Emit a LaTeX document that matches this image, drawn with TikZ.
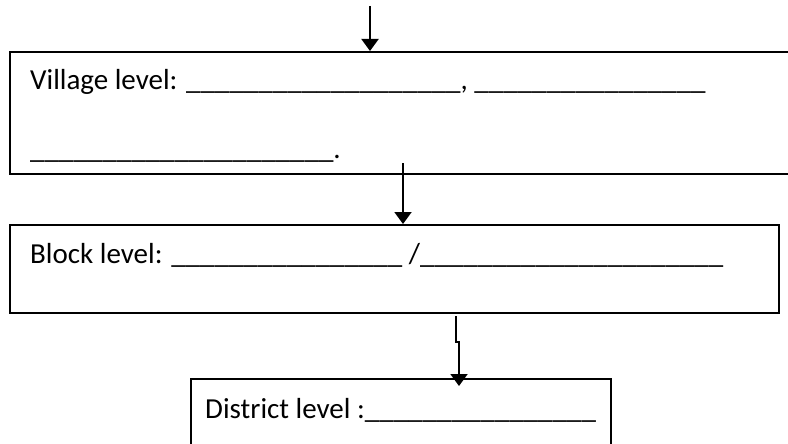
\documentclass[tikz,border=0pt]{standalone}
\usepackage{fontspec}
\setmainfont{Carlito}
\usetikzlibrary{arrows.meta}
\tikzset{
  box/.style={draw=black, line width=1.8pt, fill=none, inner sep=0pt, anchor=north west},
  txt/.style={anchor=base west, inner sep=0pt, font=\fontsize{29}{35}\selectfont},
  arr/.style={draw=black, line width=2pt, -{Triangle[width=17pt,length=12pt]}}
}
\begin{document}
\begin{tikzpicture}[x=1pt,y=-1pt]
\useasboundingbox (0,0) rectangle (788,444);
\clip (0,0) rectangle (788,444);
\fill[white] (0,0) rectangle (788,444);
% boxes
\node[box, minimum width=791pt, minimum height=122pt] (b1) at (9,51) {};
\node[box, minimum width=769pt, minimum height=88pt] (b2) at (9,224) {};
\node[box, minimum width=420pt, minimum height=100pt] (b3) at (190,378) {};
% texts
\node[txt] (t1) at (30,90) {Village level: \_\_\_\_\_\_\_\_\_\_\_\_\_\_\_\_\_\_\_, \_\_\_\_\_\_\_\_\_\_\_\_\_\_\_\_};
\node[txt] (t2) at (30,158) {\_\_\_\_\_\_\_\_\_\_\_\_\_\_\_\_\_\_\_\_\_.};
\node[txt] (t3) at (30,263) {Block level: \_\_\_\_\_\_\_\_\_\_\_\_\_\_\_\_ /\_\_\_\_\_\_\_\_\_\_\_\_\_\_\_\_\_\_\_\_\_};
\node[txt] (t4) at (205,418) {District level :\_\_\_\_\_\_\_\_\_\_\_\_\_\_\_\_};
% arrows
\coordinate (a1) at (370,6);
\draw[arr] (a1) -- (b1.north -| a1);
\coordinate (a2) at (403,163);
\draw[arr] (a2) -- (b2.north -| a2);
\coordinate (a3) at (456,316);
\coordinate (k3) at (459,342);
\draw[arr] (a3) -- (a3 |- k3) -- (k3) -- ([yshift=-8pt]b3.north -| k3);
\end{tikzpicture}
\end{document}
